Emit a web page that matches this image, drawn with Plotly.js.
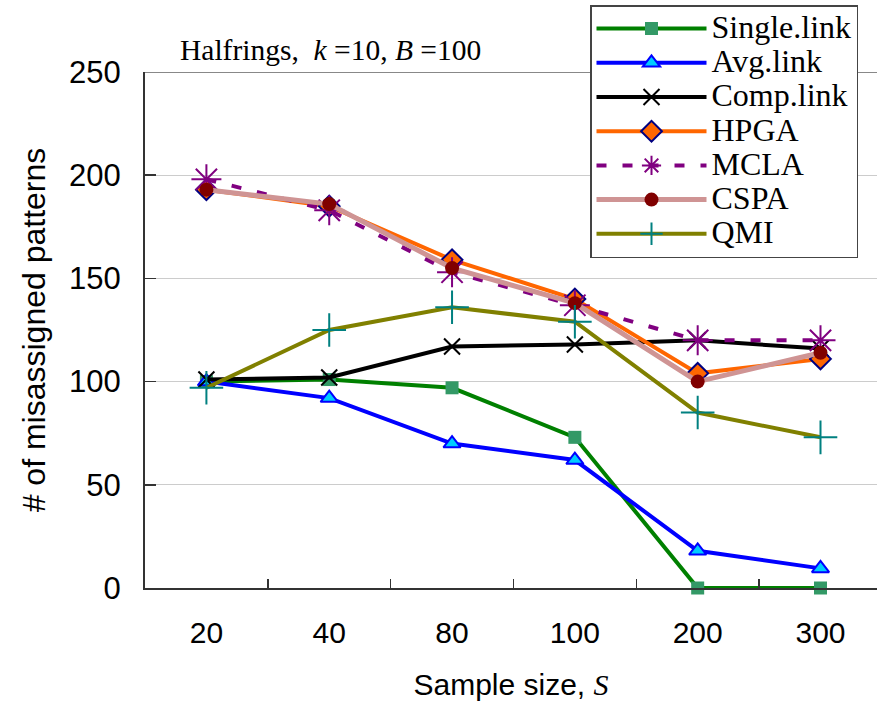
<!DOCTYPE html>
<html>
<head>
<meta charset="utf-8">
<script src="https://cdn.plot.ly/plotly-3.0.1.min.js"></script>
<style>html,body{margin:0;padding:0;background:#fff;}#chart{width:877px;height:712px;}</style>
</head>
<body>
<div id="chart"></div>
<script>
var categories = ['20', '40', '80', '100', '200', '300'];
var singleLink = [100, 101, 97, 73, 0, 0];
var avgLink    = [100, 92, 70, 62, 18, 9.5];
var compLink   = [101, 102, 117, 118, 120, 116];
var hpga       = [193, 185, 159, 140, 104, 111];
var mcla       = [198, 183, 153, 137, 120, 120];
var cspa       = [193, 186, 155, 138, 100, 114];
var qmi        = [97, 125, 136, 129, 85, 73];
var seriesNames = ['Single.link', 'Avg.link', 'Comp.link', 'HPGA', 'MCLA', 'CSPA', 'QMI'];

function nm(s) { return '<span style="font-size:32px">' + s + '</span>'; }

var traces = [
  {y: singleLink, name: nm(seriesNames[0]), line: {color: '#008000', width: 4},
   marker: {symbol: 'square', size: 13, color: '#339966'}},
  {y: avgLink, name: nm(seriesNames[1]), line: {color: '#0000ff', width: 4},
   marker: {symbol: 'triangle-up', size: 15, color: '#00ccff', line: {color: '#0000ff', width: 2}}},
  {y: compLink, name: nm(seriesNames[2]), line: {color: '#000000', width: 4},
   marker: {symbol: 'x-thin', size: 16, color: '#000000', line: {color: '#000000', width: 2}}},
  {y: hpga, name: nm(seriesNames[3]), line: {color: '#ff6600', width: 4},
   marker: {symbol: 'diamond', size: 16, color: '#ff6600', line: {color: '#000080', width: 2}}},
  {y: mcla, name: nm(seriesNames[4]), line: {color: '#800080', width: 4, dash: '10px,16px'},
   marker: {symbol: 'asterisk-open', size: 25, color: '#800080', line: {color: '#800080', width: 2}}},
  {y: cspa, name: nm(seriesNames[5]), line: {color: '#cf9494', width: 5},
   marker: {symbol: 'circle', size: 14, color: '#800000'}},
  {y: qmi, name: nm(seriesNames[6]), line: {color: '#808000', width: 4},
   marker: {symbol: 'cross-thin-open', size: 24, color: '#008080', line: {color: '#008080', width: 2}}}
];
traces.forEach(function (t) {
  t.x = categories;
  t.type = 'scatter';
  t.mode = 'lines+markers';
  t.cliponaxis = false;
});

var layout = {
  width: 877, height: 712,
  margin: {l: 145, r: 0, t: 72, b: 124},
  paper_bgcolor: '#ffffff', plot_bgcolor: '#ffffff',
  font: {family: 'Liberation Sans, Arial, sans-serif', color: '#000000'},
  showlegend: true,
  title: {
    text: 'Halfrings,  <i>k</i> =10, <i>B</i> =100',
    font: {family: 'Liberation Serif, Times New Roman, serif', size: 29.5, color: '#000'},
    xref: 'container', x: 180 / 877, xanchor: 'left',
    yref: 'container', y: 1 - 50 / 712, yanchor: 'middle'
  },
  xaxis: {
    type: 'category', categoryorder: 'array', categoryarray: categories,
    range: [-0.5, 5.46],
    tickson: 'boundaries', ticks: 'inside', ticklen: 9, tickwidth: 1.5, tickcolor: '#333',
    showline: true, linecolor: '#333', linewidth: 2,
    showgrid: false, zeroline: false,
    tickfont: {size: 30}, ticklabelstandoff: 17,
    title: {text: 'Sample size, <i><span style="font-family:Liberation Serif">S</span></i>', font: {size: 30}, standoff: 26}
  },
  yaxis: {
    range: [0, 250], dtick: 50, tick0: 0,
    ticks: 'inside', ticklen: 11, tickwidth: 1.5, tickcolor: '#333',
    showline: true, linecolor: '#333', linewidth: 2,
    showgrid: true, gridcolor: '#cccccc', gridwidth: 1, zeroline: false,
    tickfont: {size: 31}, ticklabelstandoff: 16,
    title: {text: '# of misassigned patterns', font: {size: 32}, standoff: 14}
  },
  shapes: [
    {type: 'line', xref: 'paper', yref: 'y', x0: 0, x1: 1, y0: 250, y1: 250,
     line: {color: '#888888', width: 2}}
  ],
  legend: {
    x: (590 - 145) / 732, xanchor: 'left',
    y: 1 + (72 - 5) / 516, yanchor: 'top',
    bgcolor: '#ffffff', bordercolor: '#444444', borderwidth: 1.5,
    font: {family: 'Liberation Serif, Times New Roman, serif', size: 24, color: '#000'},
    itemwidth: 110, tracegroupgap: 0
  }
};

Plotly.newPlot('chart', traces, layout, {displayModeBar: false, staticPlot: true});
</script>
</body>
</html>
